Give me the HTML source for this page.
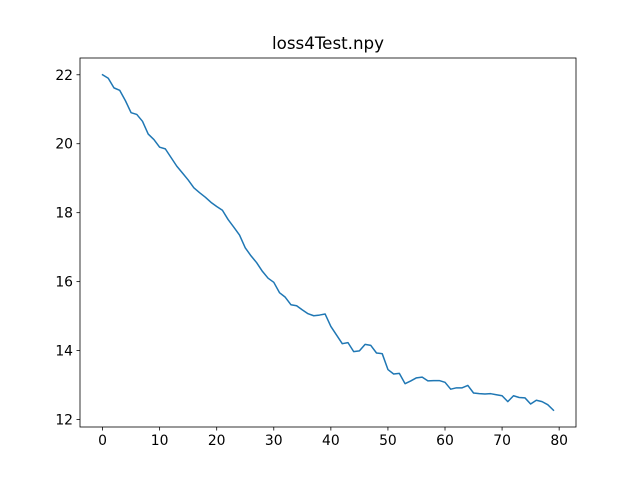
<!DOCTYPE html>
<html><head><meta charset="utf-8"><style>
body{margin:0;background:#fff}
svg{display:block;font-family:"DejaVu Sans","Liberation Sans",sans-serif}
</style></head><body>
<svg id="chart" width="640" height="480">
<rect width="640" height="480" fill="#fff"/>
<text x="328" y="49" text-anchor="middle" font-size="16.7">loss4Test.npy</text>
<g id="axes"></g>
</svg>
<script>
const xTicks=[0,10,20,30,40,50,60,70,80];
const yTicks=[12,14,16,18,20,22];
const lossValues=[22.0,21.9,21.62,21.55,21.25,20.9,20.85,20.65,20.28,20.12,19.9,19.85,19.6,19.35,19.15,18.95,18.72,18.58,18.45,18.3,18.18,18.07,17.8,17.58,17.35,16.98,16.75,16.55,16.3,16.1,15.98,15.68,15.55,15.33,15.3,15.18,15.07,15.01,15.03,15.06,14.7,14.45,14.2,14.23,13.97,13.99,14.18,14.15,13.93,13.91,13.45,13.32,13.34,13.04,13.12,13.21,13.23,13.12,13.13,13.13,13.08,12.88,12.92,12.92,12.99,12.77,12.75,12.74,12.75,12.72,12.69,12.52,12.69,12.64,12.63,12.45,12.56,12.52,12.43,12.27];
const NS='http://www.w3.org/2000/svg';
const L=80,R=576,T=58,B=427;
const n=lossValues.length;
const xmin=-0.05*(n-1),xmax=(n-1)*1.05;
const vmin=Math.min(...lossValues),vmax=Math.max(...lossValues),pad=(vmax-vmin)*0.05;
const ymin=vmin-pad,ymax=vmax+pad;
const xs=v=>L+(v-xmin)/(xmax-xmin)*(R-L);
const ys=v=>B-(v-ymin)/(ymax-ymin)*(B-T);
const g=document.getElementById('axes');
function mk(t,a){const e=document.createElementNS(NS,t);for(const k in a)e.setAttribute(k,a[k]);g.appendChild(e);return e;}
xTicks.forEach(v=>{
  const x=xs(v);
  const tk=mk('line',{x1:x,x2:x,y1:B,y2:B+3.5,stroke:'#000','stroke-width':0.8});
  
  
  const t=mk('text',{x:x,y:B+18,'text-anchor':'middle','font-size':13.9});
  t.textContent=v;
  
  
});
yTicks.forEach(v=>{
  const y=ys(v);
  const tk=mk('line',{x1:L-3.5,x2:L,y1:y,y2:y,stroke:'#000','stroke-width':0.8});
  
  
  const t=mk('text',{x:L-7,y:y+5,'text-anchor':'end','font-size':13.9});
  t.textContent=v;
  
  
});
const p=mk('polyline',{points:lossValues.map((v,i)=>xs(i)+','+ys(v)).join(' '),fill:'none',stroke:'#1f77b4','stroke-width':1.5,'stroke-linejoin':'round','stroke-linecap':'square'});


const fr=mk('rect',{x:L,y:T,width:R-L,height:B-T,fill:'none',stroke:'#000','stroke-width':0.8});


</script>
</body></html>
